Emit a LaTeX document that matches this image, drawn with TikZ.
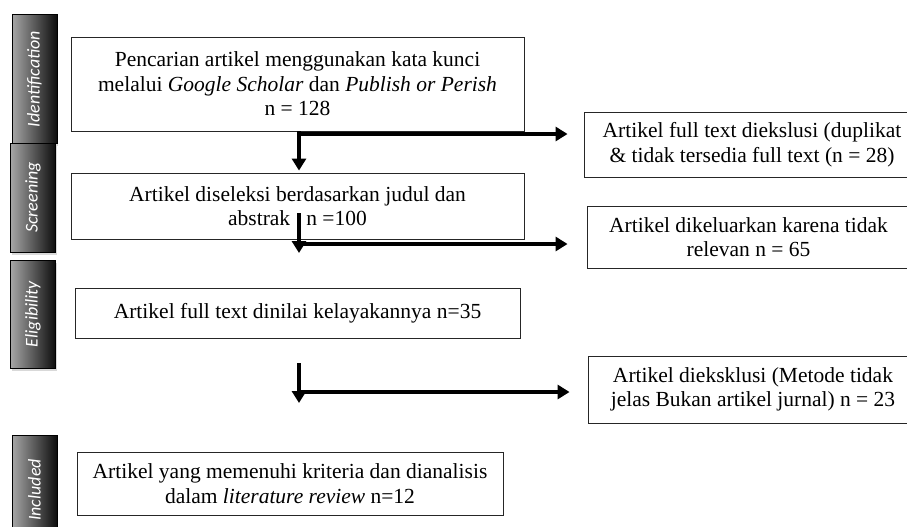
\documentclass[tikz,border=0pt]{standalone}
\usepackage{fontspec}
\setmainfont{Liberation Serif}
\newfontfamily\phasefont{Carlito}
\usetikzlibrary{arrows.meta,shadows}

\begin{document}
\begin{tikzpicture}[
  x=1pt, y=-1pt,
  box/.style={
    rectangle, draw=black!85, line width=0.9pt, align=center, inner sep=0pt,
    font=\fontsize{21.5}{24.5}\selectfont
  },
  phase/.style={
    rectangle, draw=black, line width=1pt, inner sep=0pt, minimum width=45pt,
    left color=black!35, right color=black!95, text=white,
    font=\phasefont\itshape\fontsize{18}{21}\selectfont,
    drop shadow={opacity=0.3, shadow xshift=1pt, shadow yshift=-3pt}
  },
  arr/.style={-{Triangle[length=12pt,width=14pt]}, line width=4pt}
]
\useasboundingbox (0,0) rectangle (907,527);
\node[box, minimum width=453pt, minimum height=94pt] (search) at (297.5,84) {Pencarian artikel menggunakan kata kunci\\melalui \textit{Google Scholar} dan \textit{Publish or Perish}\\n = 128};
\node[box, minimum width=453pt, minimum height=66pt] (screen) at (297.5,206) {Artikel diseleksi berdasarkan judul dan\\abstrak\hspace{0.75em}n =100};
\node[box, minimum width=445pt, minimum height=50pt] (elig) at (297.5,313) {Artikel full text dinilai kelayakannya n=35};
\node[box, minimum width=426pt, minimum height=63pt] (incl) at (290,483.5) {Artikel yang memenuhi kriteria dan dianalisis\\dalam \textit{literature review} n=12};
\node[box, minimum width=336pt, minimum height=65pt] (excl1) at (752,144.5) {Artikel full text diekslusi (duplikat\\\& tidak tersedia full text (n = 28)};
\node[box, minimum width=323pt, minimum height=62pt] (excl2) at (748.5,237) {Artikel dikeluarkan karena tidak\\relevan n = 65};
\node[box, minimum width=330pt, minimum height=67pt] (excl3) at (753,389.5) {Artikel dieksklusi (Metode tidak\\jelas Bukan artikel jurnal) n = 23};
\node[phase, minimum height=128pt] (ident) at (34.5,79) {\rotatebox{90}{Identification}};
\node[phase, minimum height=109pt] (scr) at (33,197.5) {\rotatebox{90}{Screening}};
\node[phase, minimum height=108pt] (eli) at (33,314) {\rotatebox{90}{Eligibility}};
\node[phase, minimum height=110pt] (inc) at (34.5,490) {\rotatebox{90}{Included}};
\coordinate (fork1) at (299,134);
\coordinate (fork2) at (299,244);
\coordinate (fork3) at (299,392);
\coordinate (top2) at (299,213);
\coordinate (end2) at (299,253);
\coordinate (top3) at (299,363);
\coordinate (end3) at (299,403);
\draw[arr, shorten >=2pt] (search.south -| fork1) -- (screen.north -| fork1);
\draw[arr, shorten >=16pt] (fork1) -- (excl1.west |- fork1);
\draw[arr] (top2) -- (end2);
\draw[arr, shorten >=19pt] (fork2) -- (excl2.west |- fork2);
\draw[arr] (top3) -- (end3);
\draw[arr, shorten >=18pt] (fork3) -- (excl3.west |- fork3);
\end{tikzpicture}
\end{document}
